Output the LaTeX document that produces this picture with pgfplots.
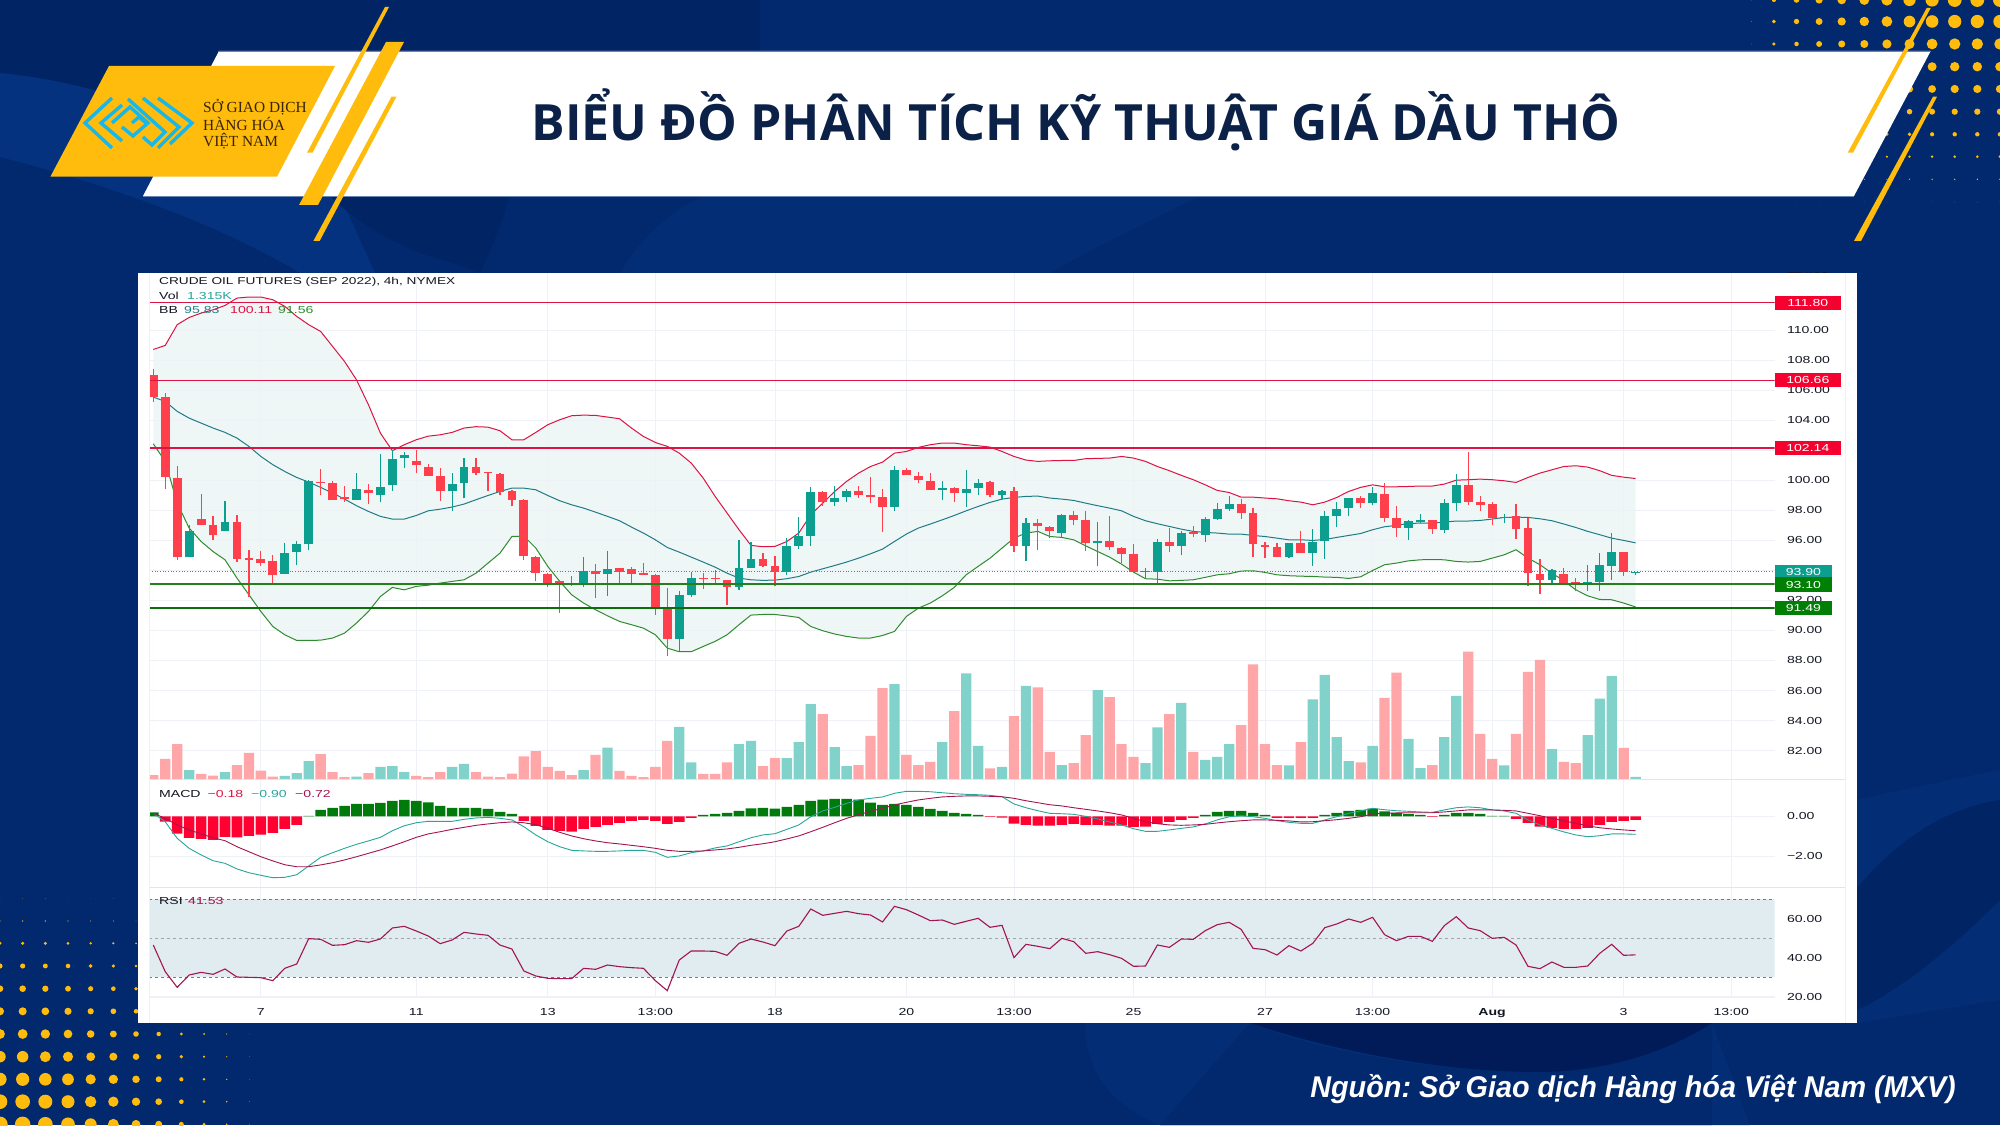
\documentclass[border=0pt]{standalone}
\usepackage{fontspec}
\usepackage{pgfplots}
\usepackage{pgfplotstable}
\pgfplotsset{compat=1.18}
\setmainfont{Liberation Sans}
\newfontfamily\tv[FakeStretch=1.38]{Liberation Sans}
\newfontfamily\ttl{Open Sans}
\newfontfamily\serifl{Liberation Serif}
\newfontfamily\srcf[FakeStretch=0.96]{Liberation Sans}
\newcommand{\tvf}{\tv\fontsize{10.2}{12}\selectfont}
\definecolor{bgbase}{HTML}{02296D}
\definecolor{bgdark}{HTML}{012465}
\definecolor{bgdarker}{HTML}{011B58}
\definecolor{bglight}{HTML}{04327F}
\definecolor{bglight2}{HTML}{032E76}
\definecolor{gold}{HTML}{FFBC0D}
\definecolor{navytxt}{HTML}{0B2147}
\definecolor{cyanl}{HTML}{17B7EA}
\definecolor{cup}{HTML}{0C9F8F}
\definecolor{cdn}{HTML}{FF3F4C}
\definecolor{vup}{HTML}{80D2CA}
\definecolor{vdn}{HTML}{FFA6A9}
\definecolor{hup}{HTML}{007A0A}
\definecolor{hdn}{HTML}{FF0030}
\definecolor{crim}{HTML}{DC1443}
\definecolor{lgreen}{HTML}{247F1C}
\definecolor{dgreen}{HTML}{0B6E0B}
\definecolor{tagred}{HTML}{F5002F}
\definecolor{taggrn}{HTML}{007F05}
\definecolor{bbm}{HTML}{1F7C86}
\definecolor{bbl}{HTML}{2F8B2F}
\definecolor{bbfill}{HTML}{EFF6F6}
\definecolor{macdl}{HTML}{26A69A}
\definecolor{sigl}{HTML}{A31550}
\definecolor{rsifill}{HTML}{E0ECEF}
\definecolor{gridc}{HTML}{EEF1F6}
\definecolor{sepc}{HTML}{E3E5EA}
\definecolor{dashc}{HTML}{787B86}
\definecolor{inkc}{HTML}{131722}
\definecolor{logotxt}{HTML}{3A2408}

\pgfplotstableread{
i up mid lo hist macd sig rsi
0 108.70 105.53 102.42 0.20 0.15 0.15 46.58
1 108.97 105.24 101.25 -0.27 -0.27 -0.10 32.91
2 110.35 104.58 98.47 -0.87 -1.10 -0.43 24.87
3 110.83 104.13 96.81 -1.08 -1.60 -0.68 31.20
4 111.12 103.80 95.92 -1.13 -1.93 -0.88 32.56
5 111.34 103.47 95.25 -1.18 -2.22 -1.07 31.54
6 111.63 103.18 94.70 -1.03 -2.35 -1.22 34.27
7 112.12 102.80 93.48 -1.05 -2.63 -1.52 30.17
8 112.19 102.25 92.37 -0.98 -2.82 -1.77 30.00
9 112.19 101.58 91.26 -0.92 -2.95 -2.02 29.83
10 112.01 101.03 90.26 -0.83 -3.07 -2.23 28.29
11 111.57 100.58 89.71 -0.63 -3.05 -2.42 34.62
12 110.90 100.18 89.33 -0.43 -2.92 -2.52 36.84
13 110.35 99.87 89.33 0.02 -2.48 -2.52 49.83
14 109.90 99.52 89.35 0.32 -2.05 -2.43 49.49
15 108.90 99.14 89.49 0.42 -1.82 -2.32 46.41
16 107.90 98.74 89.82 0.52 -1.60 -2.18 46.75
17 106.68 98.30 90.49 0.62 -1.40 -2.02 48.80
18 105.02 97.92 91.26 0.62 -1.23 -1.85 47.95
19 103.13 97.59 92.26 0.67 -1.05 -1.68 49.66
20 101.96 97.41 92.86 0.77 -0.72 -1.48 55.30
21 102.36 97.41 92.70 0.82 -0.47 -1.27 56.15
22 102.69 97.65 92.93 0.77 -0.32 -1.05 53.76
23 102.93 97.96 93.01 0.70 -0.25 -0.88 51.20
24 103.02 98.07 93.15 0.52 -0.25 -0.77 47.26
25 103.18 98.21 93.26 0.42 -0.25 -0.65 49.15
26 103.47 98.41 93.37 0.42 -0.15 -0.55 53.08
27 103.56 98.70 93.81 0.42 -0.08 -0.45 52.22
28 103.53 98.98 94.48 0.37 -0.05 -0.38 51.54
29 103.29 99.25 95.14 0.22 -0.10 -0.32 46.58
30 102.69 99.47 96.25 0.12 -0.18 -0.28 44.53
31 102.69 99.47 96.28 -0.23 -0.52 -0.32 33.25
32 103.18 99.36 95.48 -0.48 -0.93 -0.42 30.68
33 103.69 98.98 94.26 -0.68 -1.27 -0.60 29.49
34 104.02 98.63 93.26 -0.73 -1.52 -0.80 29.32
35 104.29 98.36 92.37 -0.77 -1.70 -0.98 29.32
36 104.33 98.14 91.82 -0.63 -1.73 -1.12 34.62
37 104.31 97.87 91.37 -0.53 -1.75 -1.23 34.10
38 104.20 97.59 90.97 -0.43 -1.75 -1.32 36.32
39 104.09 97.30 90.60 -0.33 -1.73 -1.38 35.47
40 103.47 96.88 90.38 -0.23 -1.70 -1.45 34.96
41 102.91 96.48 90.15 -0.18 -1.70 -1.52 34.62
42 102.51 96.03 89.71 -0.23 -1.80 -1.60 28.29
43 102.25 95.52 88.82 -0.38 -2.05 -1.70 23.16
44 101.80 95.21 88.58 -0.28 -1.98 -1.75 38.89
45 101.14 94.88 88.58 -0.08 -1.82 -1.75 43.50
46 100.14 94.55 88.93 0.07 -1.73 -1.73 43.50
47 98.92 94.21 89.27 0.12 -1.58 -1.68 43.33
48 97.81 93.81 89.71 0.17 -1.48 -1.63 41.28
49 96.70 93.48 90.38 0.27 -1.27 -1.55 47.44
50 95.66 93.37 91.02 0.40 -1.07 -1.45 49.66
51 95.57 93.33 91.06 0.42 -0.93 -1.37 48.12
52 95.59 93.35 91.06 0.38 -0.87 -1.27 46.24
53 95.92 93.44 90.97 0.47 -0.65 -1.13 53.76
54 96.48 93.59 90.86 0.57 -0.43 -0.98 56.15
55 97.70 93.88 90.26 0.77 -0.02 -0.77 65.04
56 98.47 94.10 89.98 0.83 0.27 -0.55 61.79
57 99.25 94.32 89.76 0.87 0.45 -0.32 62.82
58 99.92 94.55 89.60 0.87 0.65 -0.10 63.85
59 100.47 94.81 89.49 0.83 0.82 0.08 62.65
60 100.91 95.10 89.49 0.68 0.90 0.25 61.97
61 101.20 95.41 89.66 0.57 0.97 0.40 58.38
62 101.80 95.92 89.93 0.62 1.15 0.57 66.41
63 101.91 96.41 90.93 0.57 1.25 0.70 64.70
64 102.18 96.81 91.48 0.47 1.25 0.82 61.97
65 102.36 97.08 91.82 0.37 1.23 0.90 59.06
66 102.47 97.36 92.30 0.27 1.18 0.97 59.40
67 102.47 97.65 92.86 0.17 1.13 1.00 57.18
68 102.36 97.96 93.70 0.12 1.10 1.02 58.72
69 102.29 98.25 94.26 0.07 1.08 1.02 60.26
70 102.20 98.52 94.81 -0.03 1.05 1.00 55.64
71 101.91 98.74 95.48 -0.07 0.98 0.98 56.67
72 101.58 98.85 96.14 -0.37 0.62 0.90 40.09
73 101.34 98.92 96.48 -0.43 0.43 0.78 46.92
74 101.25 98.94 96.59 -0.47 0.28 0.68 45.90
75 101.29 98.81 96.25 -0.47 0.15 0.58 44.70
76 101.31 98.74 96.19 -0.43 0.13 0.52 50.00
77 101.31 98.65 96.03 -0.38 0.10 0.43 48.29
78 101.43 98.47 95.63 -0.43 0.00 0.35 42.31
79 101.45 98.30 95.25 -0.43 -0.13 0.27 43.16
80 101.47 98.14 94.88 -0.47 -0.28 0.18 41.62
81 101.58 97.96 94.41 -0.47 -0.43 0.07 39.74
82 101.47 97.59 93.88 -0.53 -0.62 -0.10 35.64
83 101.25 97.30 93.44 -0.52 -0.75 -0.27 35.81
84 100.91 97.10 93.41 -0.38 -0.75 -0.37 46.58
85 100.63 96.92 93.30 -0.28 -0.68 -0.43 45.38
86 100.32 96.74 93.33 -0.18 -0.60 -0.45 49.66
87 100.03 96.59 93.37 -0.08 -0.53 -0.43 49.49
88 99.69 96.52 93.53 0.07 -0.38 -0.40 53.93
89 99.32 96.48 93.70 0.22 -0.18 -0.33 57.01
90 99.18 96.41 93.77 0.27 -0.02 -0.27 58.21
91 98.87 96.41 93.95 0.27 0.03 -0.22 54.62
92 98.87 96.32 93.97 0.17 -0.02 -0.18 44.87
93 98.81 96.25 93.86 0.07 -0.10 -0.18 44.19
94 98.76 96.14 93.70 -0.08 -0.22 -0.20 41.45
95 98.63 96.03 93.64 -0.08 -0.30 -0.23 46.24
96 98.54 96.03 93.61 -0.08 -0.35 -0.28 43.50
97 98.36 95.99 93.59 -0.08 -0.35 -0.27 47.44
98 98.54 96.05 93.55 0.07 -0.18 -0.22 55.47
99 98.85 96.19 93.53 0.17 -0.02 -0.17 57.35
100 99.25 96.32 93.46 0.27 0.15 -0.10 59.91
101 99.52 96.45 93.57 0.32 0.27 -0.02 58.21
102 99.69 96.70 93.99 0.38 0.40 0.12 60.77
103 99.56 96.90 94.37 0.25 0.33 0.15 51.88
104 99.56 96.99 94.48 0.17 0.28 0.17 48.80
105 99.58 97.12 94.63 0.12 0.25 0.18 51.03
106 99.61 97.14 94.70 0.07 0.22 0.18 51.03
107 99.61 97.14 94.72 -0.03 0.20 0.18 48.46
108 99.74 97.21 94.70 0.07 0.32 0.22 56.50
109 100.00 97.28 94.59 0.17 0.43 0.27 61.11
110 100.03 97.28 94.55 0.17 0.47 0.32 55.30
111 100.07 97.32 94.59 0.12 0.43 0.32 53.93
112 100.03 97.41 94.81 0.02 0.32 0.32 50.00
113 99.96 97.52 95.03 0.02 0.27 0.30 50.51
114 99.85 97.54 95.37 -0.13 0.15 0.27 46.58
115 100.18 97.52 94.81 -0.33 -0.18 0.15 35.64
116 100.47 97.43 94.37 -0.52 -0.43 0.03 34.44
117 100.69 97.30 93.81 -0.58 -0.60 -0.10 37.86
118 100.91 97.08 93.30 -0.63 -0.78 -0.23 35.13
119 100.96 96.85 92.70 -0.63 -0.93 -0.35 35.13
120 100.87 96.59 92.30 -0.58 -1.02 -0.48 35.81
121 100.63 96.37 92.06 -0.43 -0.97 -0.57 42.31
122 100.32 96.14 92.04 -0.28 -0.88 -0.63 46.92
123 100.20 95.99 91.82 -0.23 -0.88 -0.68 41.28
124 100.11 95.83 91.56 -0.18 -0.90 -0.72 41.53
}\ind

\pgfplotstableread{
i o c h l v
0 106.97 105.53 107.39 105.20 2.6
1 105.53 100.19 105.79 99.41 13.2
2 100.14 94.86 100.94 94.66 23.0
4 97.41 97.03 99.07 97.03 3.3
5 97.01 96.37 97.61 96.03 2.2
7 97.23 94.77 97.67 94.55 9.2
8 94.81 94.70 95.35 92.24 17.1
9 94.77 94.52 95.30 94.30 5.5
10 94.63 93.66 94.99 93.04 1.5
14 99.87 99.78 100.74 98.98 16.4
15 99.80 98.65 99.96 98.65 4.6
16 98.89 98.72 99.61 98.54 1.3
18 99.34 99.12 99.74 98.41 3.9
22 101.27 100.98 102.02 100.49 2.0
23 100.89 100.29 101.07 100.25 1.3
24 100.29 99.25 100.80 98.63 4.6
27 100.89 100.51 101.47 100.36 4.6
28 100.54 100.47 100.54 99.29 1.5
29 100.43 99.18 100.49 98.98 1.3
30 99.27 98.70 99.36 98.25 3.5
31 98.67 94.92 98.74 94.66 14.9
32 94.90 93.81 94.92 93.26 18.4
33 93.75 92.99 93.81 92.86 7.9
34 93.28 93.01 93.33 91.13 5.3
35 93.06 92.99 93.61 92.97 2.6
37 93.95 93.73 94.43 92.13 15.8
39 94.15 93.92 94.15 93.17 5.3
40 94.12 93.73 94.24 93.01 2.0
41 93.84 93.70 94.48 93.70 1.3
42 93.68 91.55 93.75 91.04 7.9
43 91.59 89.40 92.82 88.27 25.0
46 93.52 93.46 93.81 92.77 3.3
47 93.46 93.39 94.04 93.08 3.3
48 93.35 92.86 93.35 91.66 11.0
51 94.75 94.32 95.14 94.19 8.5
52 94.30 93.90 94.97 92.93 13.8
56 99.20 98.52 99.25 98.25 42.7
59 99.25 98.98 99.63 98.81 9.2
60 99.00 98.91 100.20 98.47 28.3
61 98.87 98.21 99.43 96.52 59.8
63 100.69 100.36 100.80 100.36 15.8
64 100.27 99.98 100.54 99.78 9.2
65 99.94 99.34 100.49 99.34 11.2
67 99.47 99.12 99.52 98.52 44.7
70 99.87 98.98 99.92 98.91 7.0
72 99.27 95.59 99.52 95.25 41.4
74 97.14 96.92 97.41 95.32 60.3
75 96.88 96.59 96.92 96.14 17.8
77 97.65 97.32 97.92 97.03 10.5
78 97.34 95.81 97.92 95.30 28.9
80 95.94 95.54 97.63 95.32 53.9
81 95.50 95.06 95.54 94.48 23.0
82 95.08 93.88 95.74 93.84 14.5
85 95.88 95.59 96.81 95.25 42.7
87 96.54 96.45 96.92 96.19 17.8
91 98.41 97.79 98.74 97.43 35.5
92 97.79 95.74 98.14 94.86 75.4
93 95.70 95.52 95.88 94.81 23.0
94 95.54 94.90 95.81 94.88 9.2
96 95.81 95.17 96.65 95.17 24.3
101 98.81 98.50 98.96 98.14 11.0
103 99.09 97.50 99.80 97.21 53.3
104 97.47 96.79 98.30 96.21 69.9
107 97.34 96.77 97.36 96.43 9.2
110 99.69 98.56 101.89 98.36 83.7
111 98.54 98.32 98.96 97.96 29.6
112 98.43 97.50 98.58 97.03 13.2
114 97.61 96.77 98.43 96.10 29.6
115 96.81 93.79 97.47 92.93 70.4
116 93.77 93.37 94.75 92.41 78.3
118 93.73 93.15 94.15 93.08 11.2
119 93.19 93.10 93.48 92.59 10.5
123 95.23 93.86 95.23 93.64 20.4
}\red

\pgfplotstableread{
i o c h l v
3 94.86 96.63 96.99 94.86 5.9
6 96.59 97.23 98.63 96.59 4.6
11 93.75 95.14 95.81 93.75 2.0
12 95.25 95.74 95.97 94.37 3.9
13 95.72 99.92 100.03 95.32 11.8
17 98.70 99.41 100.47 98.70 1.5
19 98.98 99.56 101.73 98.54 7.9
20 99.65 101.40 102.02 99.29 8.5
21 101.47 101.65 101.85 100.78 4.6
25 99.25 99.76 100.51 97.98 7.9
26 99.78 100.89 101.47 98.81 9.9
36 92.99 93.95 94.88 92.86 5.9
38 93.77 94.12 95.30 92.26 20.6
44 89.40 92.37 92.59 88.60 34.2
45 92.39 93.52 93.88 92.21 11.0
49 92.86 94.17 96.03 92.70 23.0
50 94.15 94.75 95.88 94.15 25.0
53 93.90 95.65 96.14 93.66 13.8
54 95.65 96.30 97.54 95.43 24.3
55 96.30 99.20 99.54 95.63 49.3
57 98.52 98.81 99.63 98.25 21.0
58 98.85 99.27 99.43 98.58 8.5
62 98.21 100.69 100.94 97.92 62.3
66 99.32 99.47 99.96 98.65 24.3
68 99.12 99.41 100.69 98.19 69.5
69 99.45 99.80 100.09 98.98 21.7
71 98.98 99.27 99.34 98.76 7.9
73 95.59 97.14 97.47 94.59 61.2
76 96.48 97.70 97.74 96.14 9.2
79 95.81 95.94 97.23 94.26 58.5
83 93.90 93.97 94.15 93.44 10.5
84 93.90 95.88 96.08 93.04 34.0
86 95.59 96.50 96.59 94.99 50.0
88 96.32 97.41 97.58 95.88 12.5
89 97.41 98.07 98.47 97.32 14.5
90 98.10 98.41 98.94 97.98 23.0
95 94.90 95.81 95.81 94.81 9.0
97 95.17 95.88 96.74 94.32 52.4
98 95.92 97.61 97.98 94.77 68.4
99 97.61 98.07 98.54 96.85 27.6
100 98.16 98.81 98.81 97.61 11.8
102 98.50 99.12 99.54 98.32 21.7
105 96.81 97.27 97.34 96.03 26.3
106 97.23 97.36 97.76 97.14 7.2
108 96.70 98.47 98.74 96.50 27.6
109 98.45 99.69 100.40 97.92 54.6
113 97.52 97.58 97.74 97.14 9.0
117 93.37 94.01 94.12 93.15 19.7
120 93.08 93.21 94.37 92.63 28.9
121 93.21 94.37 95.14 92.59 52.8
122 94.32 95.23 96.48 93.37 67.7
124 93.81 93.90 93.90 93.66 1.315
}\grn

\pgfplotsset{
  pane/.style={scale only axis, width=1625.4pt, xmin=-0.35, xmax=135.62,
    axis line style={draw=none}, major tick length=0pt,
    xtick={9,22,33,42,52,63,72,82,93,102,112,123,132}, xticklabels={},
    yticklabel pos=right,
    tick label style={font=\tvf, text=inkc},
    yticklabel style={anchor=west, inner sep=0pt, xshift=12.3pt},
    grid=major, grid style={draw=gridc, line width=0.8pt}},
  bar0/.style={ybar, bar shift=0pt, draw=none},
  ebar/.style n args={2}{draw=none, mark=none, error bars/.cd, y dir=plus, y explicit, error mark=none,
     error bar style={draw=#1, line width=#2, line cap=butt}}
}

\begin{document}
\begin{tikzpicture}
\useasboundingbox (0pt,0pt) rectangle (2000pt,1125pt);
\begin{scope}[x=1pt,y=-1pt,shift={(0pt,1125pt)}]
  % background
  \fill[bgbase] (0,0) rectangle (2000,1125);
  \fill[bgdark] (0,0) -- (760,0) -- (760,60) -- (340,196) .. controls (260,150) and (130,85) .. (0,73) -- cycle;
  \fill[bglight] (0,73) .. controls (130,85) and (260,150) .. (340,196) -- (375,273) -- (300,273) .. controls (220,225) and (110,185) .. (0,157) -- cycle;
  \fill[bgdark] (330,196) .. controls (370,235) and (420,255) .. (450,262) -- (480,273) .. controls (495,240) and (505,215) .. (509,196) -- cycle;
  \fill[bglight2] (620,273) .. controls (640,240) and (670,210) .. (705,196) -- (1200,196) .. controls (1130,230) and (1080,255) .. (1050,273) -- cycle;
  \fill[bglight2] (1085,1023) .. controls (1085,1070) and (1110,1105) .. (1160,1125) -- (1750,1125) -- (1712,1023) -- cycle;
  \fill[bgbase] (1250,1023) .. controls (1300,1045) and (1420,1072) .. (1537,1072) .. controls (1600,1072) and (1670,1050) .. (1712,1023) -- (1712,1125) -- (1160,1125) -- cycle;
  \fill[bgdarker] (1250,1023) .. controls (1330,1050) and (1440,1072) .. (1537,1072) .. controls (1610,1072) and (1670,1050) .. (1712,1023) -- cycle;
  \fill[bglight2] (1857,800) .. controls (1900,790) and (1950,780) .. (2000,770) -- (2000,1000) -- (1857,1023) -- cycle;
  \fill[bgdark] (1857,888) .. controls (1880,860) and (1930,810) .. (2000,800) -- (2000,900) .. controls (1950,950) and (1900,990) .. (1857,1010) -- cycle;
  % dots top right
  \foreach \yy/\rr in {0/11,21.5/10.5,44/9,66.7/7.5,89/6.5,111.7/5,134.3/3.5,156.7/2.3,179.3/1.2,202/0.4}{
    \foreach \n/\ff in {0/.05,1/.3,2/.4,3/.52,4/.62,5/.71,6/.81,7/.88,8/.95,9/1,10/1,11/1}{
      \fill[gold] ({1751.3+22.6*\n},\yy) circle[radius={\rr*\ff*0.63*1pt}];
    }
  }
  % dots bottom left
  \foreach \yy/\rr in {898.3/.03,921/.1,943.3/.23,966/.35,988.7/.45,1011.3/.55,1034/.67,1056.7/.78,1079.3/.9,1101.7/1,1124.3/1.05}{
    \foreach \n/\ff in {0/22,1/22,2/21,3/19.5,4/17,5/15.5,6/12.5,7/10,8/7,9/4.5,10/2.5,11/1}{
      \fill[gold] ({22.67*\n},\yy) circle[radius={\rr*\ff/3*1pt}];
    }
  }
  % banner
  \fill[white] (219,51) -- (1930.7,51) -- (1854,196) -- (143,196) -- cycle;
  \draw[bglight!60!white, line width=0.8pt] (219,51) -- (1930.7,51) (1854,196) -- (143,196);
  % yellow decor
  \fill[gold] (385,7) -- (389,7) -- (312.5,152.7) -- (307,152.7) -- cycle;
  \fill[gold] (386,42) -- (404,42) -- (318,205) -- (299,205) -- cycle;
  \fill[gold] (391.5,96.7) -- (396.4,96.7) -- (319.6,241) -- (313.4,241) -- cycle;
  \fill[gold] (1926.7,8) -- (1930.7,8) -- (1853,152.7) -- (1847.7,152.7) -- cycle;
  \fill[gold] (1933,96.7) -- (1937,96.7) -- (1861,241) -- (1854,241) -- cycle;
  \fill[gold] (109,66) -- (335,66) -- (277,176.7) -- (50.4,176.7) -- cycle;
  % logo
  \begin{scope}[draw=cyanl, line width=3.4pt, line join=miter]
    \draw (112,98) -- (85,123) -- (112,148);
    \draw (122,105) -- (101,123) -- (122,141);
    \draw (112,123) -- (130,107) -- (148,123) -- (133,136) -- (122,127);
    \draw (128,99) -- (165,132) -- (152,145) -- (143,137);
    \draw (143,98) -- (179,127) -- (158,148);
    \draw (158,98) -- (192,123) -- (170,144);
    \draw (132,123) -- (139,117) -- (146,123) ;
  \end{scope}
  \node[anchor=west, inner sep=0pt, text=logotxt] at (203,107) {\serifl\fontsize{15.4}{18}\selectfont SỞ GIAO DỊCH};
  \node[anchor=west, inner sep=0pt, text=logotxt] at (203,124) {\serifl\fontsize{15.4}{18}\selectfont HÀNG HÓA};
  \node[anchor=west, inner sep=0pt, text=logotxt] at (203,141) {\serifl\fontsize{15.4}{18}\selectfont VIỆT NAM};
  % title
  \node[anchor=base west, inner sep=0pt, text=navytxt] at (531.5,141) {\ttl\bfseries\fontsize{50}{56}\selectfont BIỂU ĐỒ PHÂN TÍCH KỸ THUẬT GIÁ DẦU THÔ};
  % source
  \node[anchor=base east, inner sep=0pt, text=white] at (1956,1097) {\srcf\frenchspacing\bfseries\itshape\fontsize{30}{34}\selectfont Nguồn: Sở Giao dịch Hàng hóa Việt Nam (MXV)};
  % panel
  \fill[white] (137.7,273) rectangle (1857,1023);
\end{scope}

% BAND (area under upper band, then area under lower band)
\begin{axis}[scale only axis, width=1625.4pt, height=506pt, at={(149.1pt,346pt)}, anchor=south west,
  xmin=-0.35, xmax=135.62, ymin=80.11, ymax=113.79, hide axis]
  \addplot[fill=bbfill, draw=none] table[x=i,y=up] {\ind} \closedcycle;
  \addplot[fill=white, draw=none] table[x=i,y=lo] {\ind} \closedcycle;
\end{axis}

% PRICE
\begin{axis}[pane, at={(149.1pt,346pt)}, anchor=south west, height=506pt,
  ymin=80.11, ymax=113.79,
  ytick={82,84,86,88,90,92,94,96,98,100,102,104,106,108,110},
  yticklabels={82.00,84.00,86.00,88.00,90.00,92.00,94.00,96.00,98.00,100.00,102.00,104.00,106.00,108.00,110.00}]
  \addplot[crim, line width=1pt] table[x=i,y=up] {\ind};
  \addplot[bbl, line width=1pt] table[x=i,y=lo] {\ind};
  \addplot[bbm, line width=1pt] table[x=i,y=mid] {\ind};
  \addplot[dashc!60!cup, line width=0.7pt, dotted] coordinates {(-0.35,93.90) (135.62,93.90)};
  % wicks
  \addplot[ebar={cdn}{1.2pt}] table[x=i, y=l, y error plus expr=\thisrow{h}-\thisrow{l}] {\red};
  \addplot[ebar={cup}{1.2pt}] table[x=i, y=l, y error plus expr=\thisrow{h}-\thisrow{l}] {\grn};
  % bodies
  \addplot[ebar={cdn}{8.8pt}] table[x=i, y=c, y error plus expr=\thisrow{o}-\thisrow{c}] {\red};
  \addplot[ebar={cup}{8.8pt}] table[x=i, y=o, y error plus expr=\thisrow{c}-\thisrow{o}] {\grn};
  % levels
  \addplot[crim, line width=1.2pt] coordinates {(-0.35,111.80) (135.62,111.80)};
  \addplot[crim, line width=1.2pt] coordinates {(-0.35,106.66) (135.62,106.66)};
  \addplot[crim, line width=1.7pt] coordinates {(-0.35,102.14) (135.62,102.14)};
  \addplot[lgreen, line width=1.6pt] coordinates {(-0.35,93.10) (135.62,93.10)};
  \addplot[dgreen, line width=2pt] coordinates {(-0.35,91.49) (135.62,91.49)};
\end{axis}

% VOLUME
\begin{axis}[scale only axis, width=1625.4pt, height=506pt, at={(149.1pt,346pt)}, anchor=south west,
  xmin=-0.35, xmax=135.62, ymin=0, ymax=332.7, hide axis]
  \addplot[bar0, fill=vdn, bar width=10.3pt] table[x=i,y=v] {\red};
  \addplot[bar0, fill=vup, bar width=10.3pt] table[x=i,y=v] {\grn};
\end{axis}

% MACD
\begin{axis}[pane, at={(149.1pt,237.7pt)}, anchor=south west, height=108.3pt,
  ymin=-3.549, ymax=1.867, ytick={-2,0}, yticklabels={−2.00,0.00}]
  \addplot[bar0, fill=hup, bar width=10.6pt, restrict y to domain=0:5] table[x=i,y=hist] {\ind};
  \addplot[bar0, fill=hdn, bar width=10.6pt, restrict y to domain=-5:0] table[x=i,y=hist] {\ind};
  \addplot[macdl, line width=0.9pt] table[x=i,y=macd] {\ind};
  \addplot[sigl, line width=0.9pt] table[x=i,y=sig] {\ind};
\end{axis}

% RSI
\begin{axis}[pane, at={(149.1pt,127.3pt)}, anchor=south west, height=110.4pt,
  ymin=19.55, ymax=76.17, ytick={20,40,60}, yticklabels={20.00,40.00,60.00},
  xticklabels={7,11,13,13:00,18,20,13:00,25,27,13:00,\textbf{Aug},3,13:00},
  xticklabel style={anchor=north, inner sep=0pt, yshift=-10.3pt}]
  \addplot[fill=rsifill, draw=none] coordinates {(-0.35,30) (135.62,30) (135.62,70) (-0.35,70)} -- cycle;
  \addplot[dashc, line width=0.7pt, dashed] coordinates {(-0.35,70) (135.62,70)};
  \addplot[dashc!70, line width=0.7pt, dashed] coordinates {(-0.35,50) (135.62,50)};
  \addplot[dashc, line width=0.7pt, dashed] coordinates {(-0.35,30) (135.62,30)};
  \addplot[sigl, line width=1.1pt] table[x=i,y=rsi] {\ind};
\end{axis}

% TAGS
\begin{axis}[scale only axis, width=1625.4pt, height=506pt, at={(149.1pt,346pt)}, anchor=south west,
  xmin=-0.35, xmax=135.62, ymin=80.11, ymax=113.79, hide axis, clip=false]
  \tikzset{tag/.style={anchor=west, inner sep=0pt, minimum height=14.4pt, text=white, font=\tvf}}
  \node[tag, fill=tagred, minimum width=66.2pt] at (axis cs:135.62,111.80) {111.80};
  \node[tag, fill=tagred, minimum width=66.2pt] at (axis cs:135.62,106.66) {106.66};
  \node[tag, fill=tagred, minimum width=66.2pt] at (axis cs:135.62,102.14) {102.14};
  \node[tag, fill=cup, minimum width=57.4pt] at (axis cs:135.62,93.90) {93.90};
  \node[tag, fill=taggrn, minimum width=57.4pt] at (axis cs:135.62,93.05) {93.10};
  \node[tag, fill=taggrn, minimum width=57.4pt] at (axis cs:135.62,91.49) {91.49};
\end{axis}

% overlay text
\begin{scope}[x=1pt,y=-1pt,shift={(0pt,1125pt)}]
  \draw[sepc, line width=0.8pt] (149.1,779) -- (1845,779) (149.1,887.3) -- (1845,887.3);
  \draw[gridc, line width=0.8pt] (149.1,997.7) -- (1775,997.7) (149.1,273) -- (149.1,1023) (1845,273) -- (1845,1023);
  \begin{scope}
    \clip (1780,273) rectangle (1845,290);
    \node[anchor=west, inner sep=0pt, font=\tvf, text=inkc] at (1786.8,270) {114.00};
  \end{scope}
  \tikzset{leg/.style={anchor=base west, inner sep=0pt, font=\tvf}}
  \node[leg, text=inkc] at (159,285) {\fontsize{9.9}{12}\selectfont CRUDE OIL FUTURES (SEP 2022), 4h, NYMEX};
  \node[leg, text=inkc] at (159,300) {Vol};
  \node[leg, text=macdl] at (187,300) {1.315K};
  \node[leg, text=inkc] at (159,314) {BB};
  \node[leg, text=bbm] at (184,314) {95.83};
  \node[leg, text=crim] at (230,314) {100.11};
  \node[leg, text=bbl] at (278,314) {91.56};
  \node[leg, text=inkc] at (159,797.5) {MACD};
  \node[leg, text=crim] at (207.5,797.5) {−0.18};
  \node[leg, text=macdl] at (251,797.5) {−0.90};
  \node[leg, text=sigl] at (295,797.5) {−0.72};
  \node[leg, text=inkc] at (159,905) {RSI};
  \node[leg, text=sigl] at (188,905) {41.53};
\end{scope}
\end{tikzpicture}
\end{document}
